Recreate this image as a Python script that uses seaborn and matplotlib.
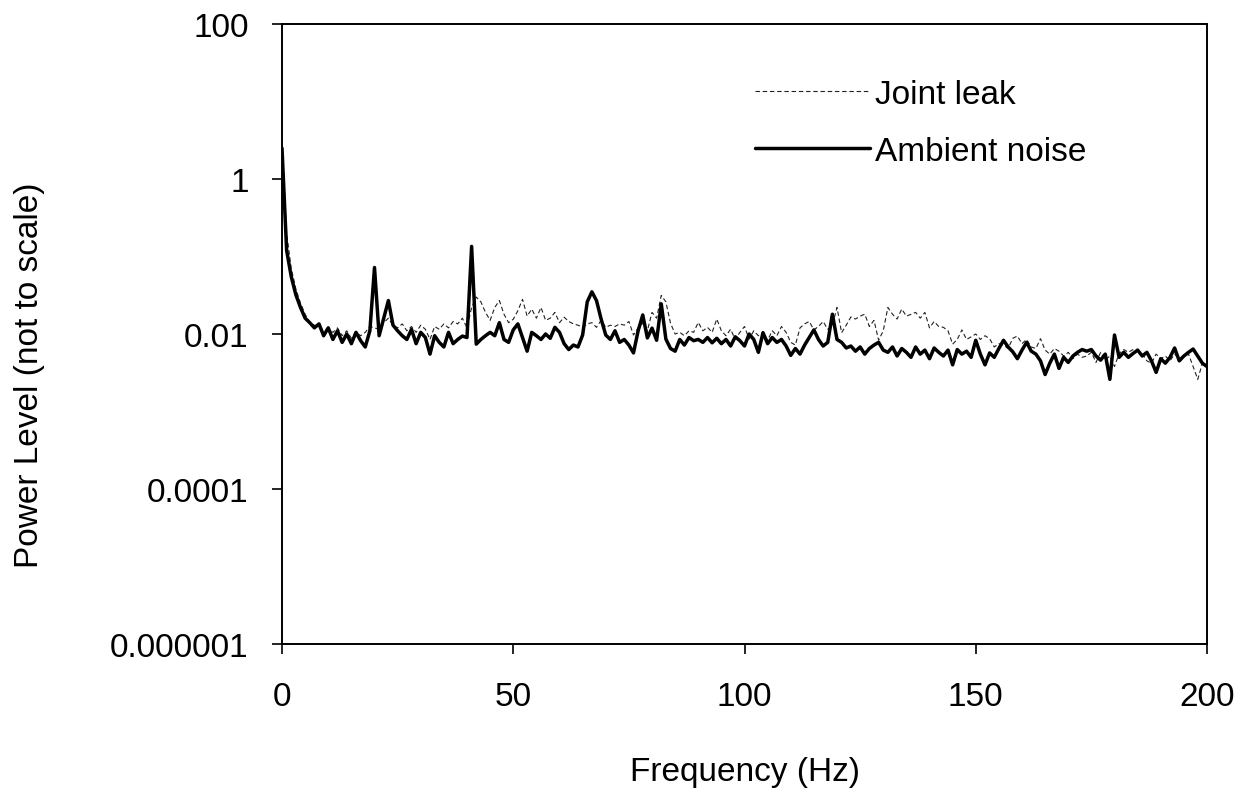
import numpy as np
import pandas as pd
import matplotlib
matplotlib.use("Agg")
import matplotlib.pyplot as plt
import seaborn as sns
from matplotlib.ticker import FixedLocator, NullLocator

freq_hz = list(range(0, 201))

ambient_noise = [
    2.5, 0.12, 0.055, 0.032, 0.022, 0.016, 0.014, 0.012, 0.0135, 0.0095,
    0.012, 0.0085, 0.011, 0.0078, 0.010, 0.0075, 0.0105, 0.0082, 0.0068, 0.011,
    0.072, 0.0095, 0.016, 0.027, 0.013, 0.011, 0.0095, 0.0085, 0.0115, 0.0075,
    0.0105, 0.009, 0.0055, 0.0095, 0.0078, 0.0068, 0.0105, 0.0075, 0.0085, 0.0094,
    0.009, 0.135, 0.0074, 0.0085, 0.0095, 0.0105, 0.0095, 0.014, 0.0085, 0.0078,
    0.0113, 0.0135, 0.009, 0.006, 0.0105, 0.0095, 0.0085, 0.010, 0.0088, 0.0122,
    0.0105, 0.0075, 0.0063, 0.0072, 0.0068, 0.0097, 0.026, 0.035, 0.027, 0.0156,
    0.0097, 0.0085, 0.011, 0.0078, 0.0085, 0.0072, 0.0057, 0.011, 0.0176, 0.0089,
    0.0119, 0.0083, 0.0245, 0.0086, 0.0065, 0.006, 0.0085, 0.0072, 0.009, 0.0082,
    0.0085, 0.0078, 0.009, 0.0077, 0.0088, 0.0075, 0.0085, 0.007, 0.0092, 0.0082,
    0.007, 0.010, 0.0085, 0.0058, 0.0104, 0.0075, 0.009, 0.0078, 0.0085, 0.007,
    0.0053, 0.0065, 0.0055, 0.0072, 0.009, 0.0113, 0.0085, 0.007, 0.0078, 0.018,
    0.0085, 0.0078, 0.0066, 0.007, 0.006, 0.0068, 0.0055, 0.0065, 0.0072, 0.0078,
    0.0062, 0.0058, 0.0068, 0.0052, 0.0065, 0.0058, 0.005, 0.0068, 0.0055, 0.0062,
    0.0048, 0.0066, 0.0058, 0.0052, 0.0062, 0.004, 0.0063, 0.0055, 0.006, 0.005,
    0.0083, 0.0055, 0.004, 0.0057, 0.005, 0.0065, 0.0083, 0.0068, 0.0059, 0.0048,
    0.0062, 0.0078, 0.006, 0.0055, 0.0045, 0.003, 0.0042, 0.0055, 0.0036, 0.005,
    0.0043, 0.0052, 0.0058, 0.0063, 0.006, 0.0063, 0.0052, 0.0046, 0.0055, 0.0026,
    0.0097, 0.005, 0.0058, 0.005, 0.0056, 0.0062, 0.0052, 0.0058, 0.0045, 0.0032,
    0.0048, 0.0042, 0.005, 0.0066, 0.0045, 0.0052, 0.0058, 0.0064, 0.0052, 0.0042,
    0.0038,
]

joint_leak = [
    3.0, 0.2, 0.07, 0.038, 0.025, 0.018, 0.014, 0.013, 0.0125, 0.011,
    0.0115, 0.0105, 0.012, 0.0095, 0.011, 0.0088, 0.0105, 0.0095, 0.0105, 0.0125,
    0.012, 0.0115, 0.014, 0.016, 0.013, 0.012, 0.0135, 0.011, 0.0125, 0.0105,
    0.013, 0.0115, 0.0085, 0.0125, 0.0115, 0.0135, 0.012, 0.0145, 0.0135, 0.016,
    0.012, 0.022, 0.030, 0.026, 0.019, 0.015, 0.022, 0.027, 0.018, 0.014,
    0.0155, 0.020, 0.028, 0.017, 0.021, 0.016, 0.022, 0.015, 0.016, 0.019,
    0.014, 0.0165, 0.0145, 0.0135, 0.013, 0.0122, 0.0135, 0.014, 0.0122, 0.015,
    0.0122, 0.013, 0.0125, 0.0135, 0.013, 0.0145, 0.0097, 0.012, 0.0138, 0.011,
    0.019, 0.016, 0.0315, 0.026, 0.0138, 0.010, 0.0105, 0.0095, 0.011, 0.0105,
    0.0141, 0.011, 0.0122, 0.0105, 0.0156, 0.011, 0.0095, 0.0115, 0.0085, 0.0105,
    0.0125, 0.0086, 0.011, 0.0095, 0.0105, 0.0083, 0.011, 0.0095, 0.0125, 0.0105,
    0.0078, 0.0072, 0.012, 0.0135, 0.0145, 0.0113, 0.0125, 0.0145, 0.0115, 0.013,
    0.022, 0.0104, 0.013, 0.0166, 0.0156, 0.017, 0.018, 0.0125, 0.015, 0.0083,
    0.011, 0.022, 0.018, 0.0156, 0.021, 0.017, 0.018, 0.019, 0.016, 0.019,
    0.012, 0.0145, 0.0125, 0.0122, 0.011, 0.0074, 0.0085, 0.0113, 0.0085, 0.0092,
    0.010, 0.0085, 0.0095, 0.0087, 0.0068, 0.0075, 0.0072, 0.0065, 0.0088, 0.0094,
    0.0075, 0.0085, 0.0068, 0.0065, 0.0087, 0.0062, 0.0055, 0.0065, 0.006, 0.0052,
    0.0058, 0.0048, 0.0055, 0.005, 0.0052, 0.0058, 0.0043, 0.0058, 0.0046, 0.0052,
    0.0038, 0.0056, 0.0063, 0.0058, 0.0063, 0.006, 0.0056, 0.0045, 0.0042, 0.0055,
    0.0048, 0.0052, 0.0045, 0.0055, 0.0048, 0.0052, 0.0055, 0.0038, 0.0026, 0.0042,
    0.0038,
]

x_ticks = [0, 50, 100, 150, 200]
y_ticks = [0.000001, 0.0001, 0.01, 1, 100]
y_tick_labels = ["0.000001", "0.0001", "0.01", "1", "100"]

sns.set_theme(style="white")
plt.rcParams["font.family"] = ["Liberation Sans", "DejaVu Sans"]

W, H = 1260, 812
L, R, T, B = 282, 1207, 25, 645

fig = plt.figure(figsize=(W / 100, H / 100), dpi=100)
ax = fig.add_axes([L / W, 1 - B / H, (R - L) / W, (B - T) / H])

df_j = pd.DataFrame({"f": freq_hz, "p": joint_leak})
df_a = pd.DataFrame({"f": freq_hz, "p": ambient_noise})

sns.lineplot(data=df_j, x="f", y="p", ax=ax, color="#222222", linewidth=0.8,
             linestyle=(0, (4, 2.5)), label="Joint leak")
sns.lineplot(data=df_a, x="f", y="p", ax=ax, color="black", linewidth=2.5,
             label="Ambient noise")

ax.set_yscale("log")
ax.set_xlim(0, 200)
ax.set_ylim(1e-6, 100)
ax.xaxis.set_major_locator(FixedLocator(x_ticks))
ax.yaxis.set_major_locator(FixedLocator(y_ticks))
ax.yaxis.set_minor_locator(NullLocator())
ax.set_yticklabels(y_tick_labels)
ax.set_xticklabels([str(v) for v in x_ticks])

for s in ax.spines.values():
    s.set_color("black")
    s.set_linewidth(1.4)

FS = 24
ax.tick_params(axis="both", which="major", direction="out", length=7, width=1.2,
               color="black", labelsize=FS, labelcolor="black")
ax.tick_params(axis="y", left=True, pad=17)
ax.tick_params(axis="x", bottom=True, pad=20)

ax.set_xlabel("Frequency (Hz)", fontsize=FS, color="black")
ax.set_ylabel("Power Level (not to scale)", fontsize=FS, color="black")
ax.xaxis.set_label_coords(0.5, (B - 757) / (B - T))
ax.yaxis.set_label_coords((45 - L) / (R - L), (B - 375) / (B - T))

leg = ax.legend(loc="upper left", bbox_to_anchor=((755 - L) / (R - L), (B - 80) / (B - T)),
                frameon=False, fontsize=FS, handlelength=3.45, handletextpad=0.15,
                labelspacing=0.78, borderaxespad=0, borderpad=0)
for t in leg.get_texts():
    t.set_color("black")

fig.savefig("out.png", dpi=100)
